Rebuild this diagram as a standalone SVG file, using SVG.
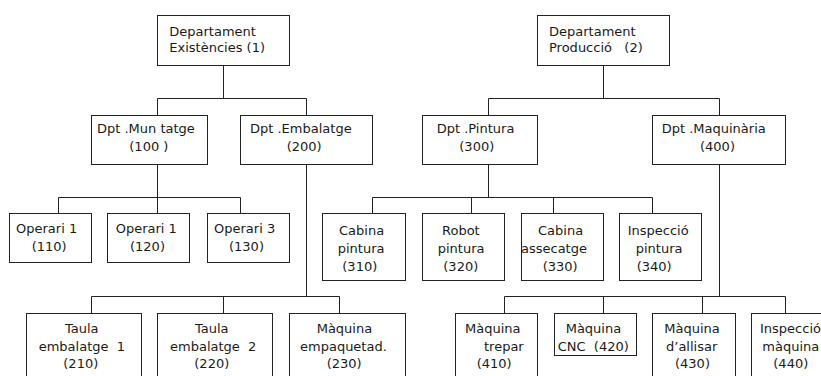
<svg xmlns="http://www.w3.org/2000/svg" width="821" height="376" viewBox="0 0 821 376">
<style>
rect{fill:#fff;stroke:#222;stroke-width:1}
.c path{fill:none;stroke:#222;stroke-width:1}
text{font-family:"DejaVu Sans",Verdana,sans-serif;font-size:13px;fill:#1a1a1a;white-space:pre}
</style>
<rect x="0" y="0" width="821" height="376" style="stroke:none"/>
<g class="c" id="connectors">
<path d="M223.5 65.5V98.5M157.5 98.5H306.5M157.5 98.5V115.5M306.5 98.5V115.5"/>
<path d="M157.5 164.5V197.5M58.5 197.5H240.5M58.5 197.5V213.5M157.5 197.5V213.5M240.5 197.5V213.5"/>
<path d="M306.5 164.5V296.5M91.5 296.5H339.5M91.5 296.5V313.5M223.5 296.5V313.5M339.5 296.5V313.5"/>
<path d="M603.5 65.5V98.5M488.5 98.5H719.5M488.5 98.5V115.5M719.5 98.5V115.5"/>
<path d="M488.5 164.5V197.5M372.5 197.5H652.5M372.5 197.5V213.5M471.5 197.5V213.5M553.5 197.5V213.5M652.5 197.5V213.5"/>
<path d="M719.5 164.5V296.5M504.5 296.5H785.5M504.5 296.5V313.5M603.5 296.5V313.5M702.5 296.5V313.5M785.5 296.5V313.5"/>
</g>
<g id="n1"><rect x="157.5" y="15.5" width="132" height="50"/><text x="169.3" y="36">Departament</text><text x="169.3" y="52">Existències (1)</text></g>
<g id="n2"><rect x="537.5" y="15.5" width="132" height="50"/><text x="549" y="36">Departament</text><text x="549" y="52">Producció   (2)</text></g>
<g id="n100"><rect x="91.5" y="115.5" width="116" height="49"/><text x="97" y="133">Dpt .Mun tatge</text><text x="129.3" y="151">(100 )</text></g>
<g id="n200"><rect x="240.5" y="115.5" width="132" height="49"/><text x="250" y="133">Dpt .Embalatge</text><text x="286.7" y="151">(200)</text></g>
<g id="n300"><rect x="422.5" y="115.5" width="115" height="49"/><text x="436.7" y="133">Dpt .Pintura</text><text x="459.3" y="151">(300)</text></g>
<g id="n400"><rect x="652.5" y="115.5" width="133" height="49"/><text x="661.7" y="133">Dpt .Maquinària</text><text x="700" y="151">(400)</text></g>
<g id="n110"><rect x="9.5" y="213.5" width="82" height="49"/><text x="16" y="233">Operari 1</text><text x="31.7" y="251">(110)</text></g>
<g id="n120"><rect x="107.5" y="213.5" width="82" height="49"/><text x="115.7" y="233">Operari 1</text><text x="130" y="251">(120)</text></g>
<g id="n130"><rect x="207.5" y="213.5" width="82" height="49"/><text x="214" y="233">Operari 3</text><text x="229" y="251">(130)</text></g>
<g id="n310"><rect x="322.5" y="213.5" width="83" height="67"/><text x="339" y="235">Cabina</text><text x="337.7" y="253">pintura</text><text x="342.3" y="271">(310)</text></g>
<g id="n320"><rect x="422.5" y="213.5" width="82" height="67"/><text x="442" y="235">Robot</text><text x="437.7" y="253">pintura</text><text x="443.3" y="271">(320)</text></g>
<g id="n330"><rect x="521.5" y="213.5" width="82" height="67"/><text x="538" y="235">Cabina</text><text x="521" y="253">assecatge</text><text x="542.7" y="271">(330)</text></g>
<g id="n340"><rect x="619.5" y="213.5" width="82" height="67"/><text x="627.7" y="235">Inspecció</text><text x="635.7" y="253">pintura</text><text x="636.7" y="271">(340)</text></g>
<g id="n210"><rect x="26.5" y="313.5" width="115" height="72"/><text x="65" y="333">Taula</text><text x="38.7" y="350.5">embalatge  1</text><text x="63.3" y="368">(210)</text></g>
<g id="n220"><rect x="157.5" y="313.5" width="115" height="72"/><text x="195" y="333">Taula</text><text x="170" y="350.5">embalatge  2</text><text x="194.3" y="368">(220)</text></g>
<g id="n230"><rect x="289.5" y="313.5" width="116" height="72"/><text x="316.7" y="333">Màquina</text><text x="300" y="350.5">empaquetad.</text><text x="326.7" y="368">(230)</text></g>
<g id="n410"><rect x="455.5" y="313.5" width="82" height="72"/><text x="465" y="333">Màquina</text><text x="484" y="350.5">trepar</text><text x="476.7" y="368">(410)</text></g>
<g id="n420"><rect x="554.5" y="313.5" width="82" height="42"/><text x="565.7" y="333">Màquina</text><text x="557.7" y="350.5">CNC  (420)</text></g>
<g id="n430"><rect x="652.5" y="313.5" width="83" height="72"/><text x="664.3" y="333">Màquina</text><text x="666" y="350.5">d’allisar</text><text x="675" y="368">(430)</text></g>
<g id="n440"><rect x="751.5" y="313.5" width="80" height="72"/><text x="760" y="333">Inspecció</text><text x="762.3" y="350.5">màquina</text><text x="773.3" y="368">(440)</text></g>
</svg>
